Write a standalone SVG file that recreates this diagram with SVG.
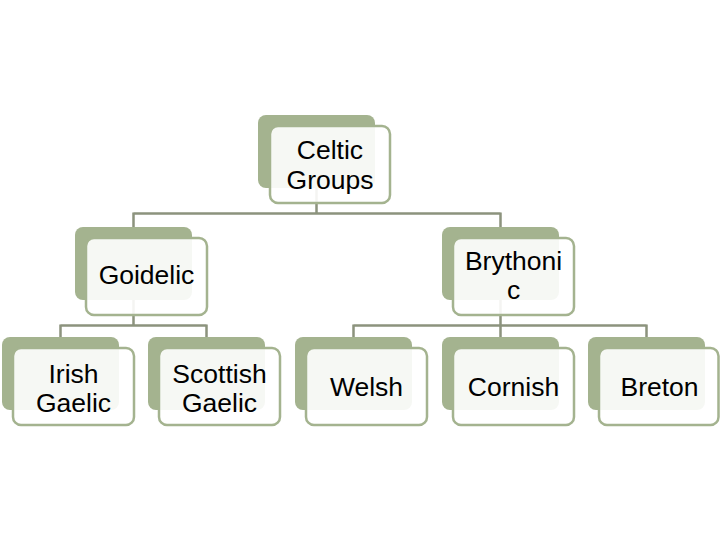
<svg xmlns="http://www.w3.org/2000/svg" width="720" height="540" viewBox="0 0 720 540">
<style>
.back{fill:#a4b38f}
.front{fill:#ffffff;fill-opacity:0.9;stroke:#a4b38f;stroke-width:2.5}
.conn{fill:none;stroke:#8c937d;stroke-width:2.5}
text{font-family:"Liberation Sans",Arial,sans-serif;font-size:26.5px;fill:#000;text-anchor:middle}
</style>
<rect width="720" height="540" fill="#ffffff"/>
<g id="connectors">
<path class="conn" d="M316.5,188 V213.5 M133.5,213.5 H500.5 M133.5,212.5 V227 M500.5,212.5 V227"/>
<path class="conn" d="M133.5,300 V325.5 M60.5,325.5 H206.5 M60.5,324.5 V337 M206.5,324.5 V337"/>
<path class="conn" d="M500.5,300 V325.5 M353.5,325.5 H646.5 M353.5,324.5 V337 M500.5,324.5 V337 M646.5,324.5 V337"/>
</g>
<g id="celtic-groups">
<rect class="back" x="258" y="115" width="117" height="73" rx="8"/>
<rect class="front" x="270" y="126" width="120" height="77" rx="8"/>
<text x="330" y="159">Celtic</text>
<text x="330" y="189">Groups</text>
</g>
<g id="goidelic">
<rect class="back" x="75" y="227" width="117" height="73" rx="8"/>
<rect class="front" x="86" y="238" width="121" height="77" rx="8"/>
<text x="146.5" y="284">Goidelic</text>
</g>
<g id="brythonic">
<rect class="back" x="442" y="227" width="117" height="73" rx="8"/>
<rect class="front" x="453" y="238" width="121" height="77" rx="8"/>
<text x="513.5" y="270">Brythoni</text>
<text x="513.5" y="299">c</text>
</g>
<g id="irish-gaelic">
<rect class="back" x="2" y="337" width="117" height="73" rx="8"/>
<rect class="front" x="13" y="348" width="121" height="77" rx="8"/>
<text x="73.5" y="383">Irish</text>
<text x="73.5" y="412">Gaelic</text>
</g>
<g id="scottish-gaelic">
<rect class="back" x="148" y="337" width="117" height="73" rx="8"/>
<rect class="front" x="159" y="348" width="121" height="77" rx="8"/>
<text x="219.5" y="383">Scottish</text>
<text x="219.5" y="412">Gaelic</text>
</g>
<g id="welsh">
<rect class="back" x="295" y="337" width="117" height="73" rx="8"/>
<rect class="front" x="306" y="348" width="121" height="77" rx="8"/>
<text x="366.5" y="396">Welsh</text>
</g>
<g id="cornish">
<rect class="back" x="442" y="337" width="117" height="73" rx="8"/>
<rect class="front" x="453" y="348" width="121" height="77" rx="8"/>
<text x="513.5" y="396">Cornish</text>
</g>
<g id="breton">
<rect class="back" x="588" y="337" width="117" height="73" rx="8"/>
<rect class="front" x="599" y="348" width="119.5" height="77" rx="8"/>
<text x="659.5" y="396">Breton</text>
</g>
</svg>
